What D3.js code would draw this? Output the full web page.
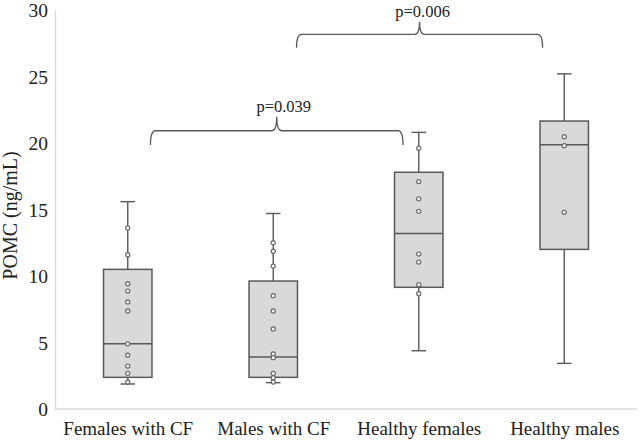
<!DOCTYPE html>
<html>
<head>
<meta charset="utf-8">
<script src="https://cdn.jsdelivr.net/npm/d3@7"></script>
<style>
  html, body { margin: 0; padding: 0; background: #fff; }
  svg { display: block; }
  text { font-family: "Liberation Serif", "Times New Roman", serif; fill: #222; }
</style>
</head>
<body>
<svg id="chart" width="640" height="441"></svg>
<script>
// ---------- data ----------
const categories = ["Females with CF", "Males with CF", "Healthy females", "Healthy males"];
const whiskerLow  = [1.88, 1.98, 4.38, 3.43];
const quartile1   = [2.38, 2.38, 9.15, 12.0];
const medians     = [4.91, 3.91, 13.2, 19.87];
const quartile3   = [10.5, 9.62, 17.8, 21.65];
const whiskerHigh = [15.59, 14.7, 20.8, 25.2];
const pointsFemalesCF  = [13.6, 11.6, 9.42, 8.87, 8.05, 7.37, 4.9, 4.04, 3.23, 2.68, 2.03];
const pointsMalesCF    = [12.5, 11.86, 10.75, 8.52, 7.37, 6.02, 4.14, 3.86, 2.68, 2.35, 2.03];
const pointsHealthyF   = [19.6, 17.1, 15.8, 14.86, 11.65, 11.05, 9.35, 8.67];
const pointsHealthyM   = [20.47, 19.8, 14.79];
const yTicks = [0, 5, 10, 15, 20, 25, 30];
const yLabel = "POMC (ng/mL)";
// significance comparisons: groups compared, p label, bracket levels (value units)
const compFrom   = ["Females with CF", "Males with CF"];
const compTo     = ["Healthy females", "Healthy males"];
const compLabel  = ["p=0.039", "p=0.006"];
const compLevel  = [20.92, 28.17];

// ---------- layout ----------
const svg = d3.select("#chart");
const x = d3.scalePoint().domain(categories).range([55, 637]).padding(0.5);
const y = d3.scaleLinear().domain([0, 30]).range([409, 10]);
const step = x.step();
const boxW = step * 0.333;
const capW = 14.5;
const boxStroke = "#595959";

const groups = categories.map((c, i) => ({
  cat: c, lo: whiskerLow[i], q1: quartile1[i], med: medians[i], q3: quartile3[i], hi: whiskerHigh[i],
  pts: [pointsFemalesCF, pointsMalesCF, pointsHealthyF, pointsHealthyM][i]
}));

// axes
const yAxis = d3.axisLeft(y).tickValues(yTicks).tickSize(0).tickSizeOuter(0).tickPadding(7);
const gy = svg.append("g").attr("transform", "translate(55,0)").call(yAxis);
gy.select(".domain").attr("stroke", "#d9d9d9").attr("stroke-width", 1.3);
gy.selectAll("text").attr("font-size", "19.5px").attr("fill", "#222")
  .attr("font-family", "Liberation Serif").attr("dy", "0.34em");

const xAxis = d3.axisBottom(x).tickSize(0).tickSizeOuter(0).tickPadding(13);
const gx = svg.append("g").attr("transform", `translate(0,${y(0)})`).call(xAxis);
gx.select(".domain").attr("stroke", "#d9d9d9").attr("stroke-width", 1.3)
  .attr("d", `M55,0H637`);
gx.selectAll("text").attr("font-size", "19px").attr("fill", "#222")
  .attr("font-family", "Liberation Serif");

svg.append("text")
  .attr("transform", `translate(17,${(y(0) + y(30)) / 2 + 6}) rotate(-90)`)
  .attr("text-anchor", "middle")
  .attr("font-size", "20px")
  .text(yLabel);

// boxes
const g = svg.append("g");
const bg = g.selectAll("g.box").data(groups).join("g").attr("class", "box");

bg.append("line")
  .attr("x1", d => x(d.cat)).attr("x2", d => x(d.cat))
  .attr("y1", d => y(d.hi)).attr("y2", d => y(d.q3))
  .attr("stroke", boxStroke).attr("stroke-width", 1.4);
bg.append("line")
  .attr("x1", d => x(d.cat)).attr("x2", d => x(d.cat))
  .attr("y1", d => y(d.q1)).attr("y2", d => y(d.lo))
  .attr("stroke", boxStroke).attr("stroke-width", 1.4);
bg.append("line")
  .attr("x1", d => x(d.cat) - capW / 2).attr("x2", d => x(d.cat) + capW / 2)
  .attr("y1", d => y(d.hi)).attr("y2", d => y(d.hi))
  .attr("stroke", boxStroke).attr("stroke-width", 1.4);
bg.append("line")
  .attr("x1", d => x(d.cat) - capW / 2).attr("x2", d => x(d.cat) + capW / 2)
  .attr("y1", d => y(d.lo)).attr("y2", d => y(d.lo))
  .attr("stroke", boxStroke).attr("stroke-width", 1.4);
bg.append("rect")
  .attr("x", d => x(d.cat) - boxW / 2).attr("width", boxW)
  .attr("y", d => y(d.q3)).attr("height", d => y(d.q1) - y(d.q3))
  .attr("fill", "#d9d9d9").attr("stroke", boxStroke).attr("stroke-width", 1.5);
bg.append("line")
  .attr("x1", d => x(d.cat) - boxW / 2).attr("x2", d => x(d.cat) + boxW / 2)
  .attr("y1", d => y(d.med)).attr("y2", d => y(d.med))
  .attr("stroke", boxStroke).attr("stroke-width", 1.5);

bg.selectAll("circle").data(d => d.pts.map(v => ({ cat: d.cat, v }))).join("circle")
  .attr("cx", d => x(d.cat)).attr("cy", d => y(d.v)).attr("r", 2.1)
  .attr("fill", "#f2f2f2").attr("stroke", "#666").attr("stroke-width", 1.1);

// significance brackets
const offsets = [[0.156, -0.108, 7, 20.92 - 19.85, 21.98 - 20.92], [0.16, -0.149, 3, 1.0, 0.95]];
compLabel.forEach((lab, i) => {
  const x0 = x(compFrom[i]) + offsets[i][0] * step;
  const x1 = x(compTo[i]) + offsets[i][1] * step;
  const xm = (x0 + x1) / 2;
  const yh = y(compLevel[i]);
  const ye = y(compLevel[i] - offsets[i][3]);
  const yt = y(compLevel[i] + offsets[i][4]);
  const r = 5;
  const path = d3.path();
  path.moveTo(x0, ye);
  path.quadraticCurveTo(x0, yh, x0 + r, yh);
  path.lineTo(xm - 5, yh);
  path.quadraticCurveTo(xm, yh, xm, yt);
  path.quadraticCurveTo(xm, yh, xm + 5, yh);
  path.lineTo(x1 - r, yh);
  path.quadraticCurveTo(x1, yh, x1, ye);
  svg.append("path").attr("d", path.toString())
    .attr("fill", "none").attr("stroke", boxStroke).attr("stroke-width", 1.3);
  svg.append("text")
    .attr("x", xm + offsets[i][2]).attr("y", yt - 4.5)
    .attr("text-anchor", "middle").attr("font-size", "16.5px")
    .text(lab);
});
</script>
</body>
</html>
